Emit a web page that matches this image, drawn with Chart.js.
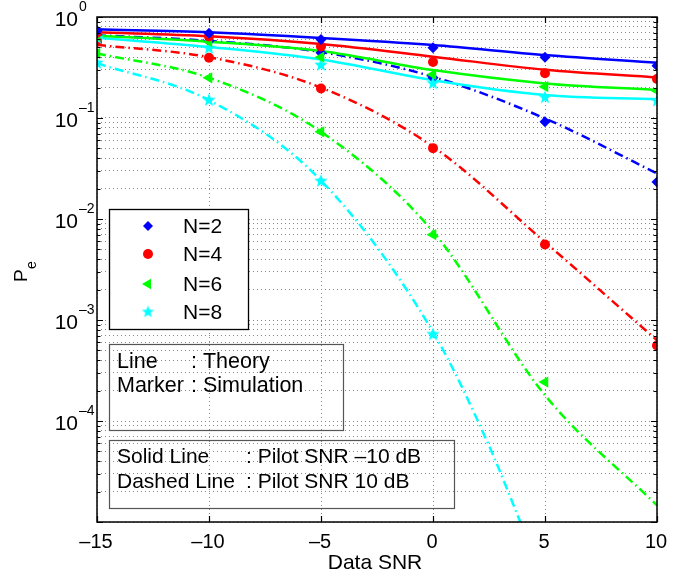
<!DOCTYPE html>
<html><head><meta charset="utf-8">
<script src="https://cdn.jsdelivr.net/npm/chart.js@4"></script>
<style>html,body{margin:0;padding:0;background:#fff}</style>
</head><body>
<canvas id="c" width="699" height="576"></canvas>
<script>
// ---------- data ----------
const snr = [-15, -10, -5, 0, 5, 10];
const snrN8Dashed = [-15, -10, -5, 0, 2.5, 3.9];
const xTickValues = [-15, -10, -5, 0, 5, 10];
const xTickLabels = ['\u201315', '\u201310', '\u20135', '0', '5', '10'];
const yTickValues = [1, 1e-1, 1e-2, 1e-3, 1e-4];
const yTickExponents = ['0', '\u20131', '\u20132', '\u20133', '\u20134'];
const legendLabels = ['N=2', 'N=4', 'N=6', 'N=8'];
const xTitle = 'Data SNR';
const noteLines = [['Line', ': Theory'], ['Marker', ': Simulation']];
const pilotLines = [['Solid Line', ': Pilot SNR \u201310 dB'], ['Dashed Line', ': Pilot SNR 10 dB']];

// theory, pilot SNR -10 dB (solid)
const theoryN2Solid = [0.755, 0.705, 0.62, 0.527, 0.42, 0.353];
const theoryN4Solid = [0.705, 0.645, 0.54, 0.405, 0.30, 0.252];
const theoryN6Solid = [0.653, 0.57, 0.46, 0.298, 0.22, 0.189];
const theoryN8Solid = [0.624, 0.505, 0.38, 0.237, 0.169, 0.153];
// theory, pilot SNR 10 dB (dash-dot)
const theoryN2Dashed = [0.66, 0.58, 0.45, 0.256, 0.099, 0.0283];
const theoryN4Dashed = [0.53, 0.40, 0.20, 0.052, 0.0059, 6.3e-4];
const theoryN6Dashed = [0.436, 0.25, 0.073, 0.0075, 1.8e-4, 1.46e-5];
const theoryN8Dashed = [0.348, 0.15, 0.024, 7.6e-4, 5.7e-5, 1e-5];
// simulation, pilot SNR -10 dB
const simN2Solid = [0.73, 0.69, 0.60, 0.497, 0.40, 0.33];
const simN4Solid = [0.70, 0.64, 0.51, 0.358, 0.277, 0.243];
const simN6Solid = [0.65, 0.57, 0.40, 0.27, 0.204, 0.186];
const simN8Solid = [0.62, 0.49, 0.334, 0.22, 0.16, 0.148];
// simulation, pilot SNR 10 dB
const simN2Dashed = [0.66, 0.58, 0.443, 0.25, 0.0918, 0.0233];
const simN4Dashed = [0.57, 0.395, 0.196, 0.0503, 0.0056, 5.6e-4];
const simN6Dashed = [0.436, 0.25, 0.073, 0.007, 2.43e-4, null];
const simN8Dashed = [0.35, 0.15, 0.0237, 7.2e-4, null, null];

// ---------- styles ----------
const FONT = '"Liberation Sans", Arial, Helvetica, sans-serif';
const colors = ['#0000ff', '#ff0000', '#00ff00', '#00ffff'];

function makeStar(color, R) {
  const s = Math.ceil(R * 2 + 2);
  const c = document.createElement('canvas');
  c.width = s; c.height = s;
  const g = c.getContext('2d');
  g.fillStyle = color;
  g.beginPath();
  for (let i = 0; i < 10; i++) {
    const r = i % 2 ? R * 0.42 : R;
    const a = -Math.PI / 2 + i * Math.PI / 5;
    g.lineTo(s / 2 + r * Math.cos(a), s / 2 + r * Math.sin(a));
  }
  g.closePath(); g.fill();
  return c;
}
const starImg = makeStar('#00ffff', 7);
const starImgSmall = makeStar('#00ffff', 6.5);
const markerStyles = [
  {pointStyle: 'rectRot', radius: 5.5, rotation: 0},
  {pointStyle: 'circle', radius: 5, rotation: 0},
  {pointStyle: 'triangle', radius: 6.5, rotation: -90},
  {pointStyle: starImg, radius: 7, rotation: 0}
];
const legendMarkerStyles = [
  {pointStyle: 'rectRot', radius: 5, rotation: 0},
  {pointStyle: 'circle', radius: 5, rotation: 0},
  {pointStyle: 'triangle', radius: 6, rotation: -90},
  {pointStyle: starImgSmall, radius: 6.5, rotation: 0}
];

const pts = (xs, ys) => xs.map((x, i) => ({x: x, y: ys[i]})).filter(p => p.y !== null);

function lineDs(xs, ys, k, dashed) {
  return {
    data: pts(xs, ys), borderColor: colors[k], backgroundColor: colors[k],
    borderWidth: 2.5, pointRadius: 0, pointHoverRadius: 0,
    borderDash: dashed ? [9, 4, 1.5, 4] : [],
    cubicInterpolationMode: 'monotone', fill: false, order: 2
  };
}
function markDs(xs, ys, k) {
  const m = markerStyles[k];
  return {
    data: pts(xs, ys), showLine: false, borderColor: colors[k], backgroundColor: colors[k],
    pointStyle: m.pointStyle, pointRadius: m.radius, pointRotation: m.rotation,
    pointBorderWidth: 0, pointHoverRadius: m.radius, order: 1
  };
}

const datasets = [
  lineDs(snr, theoryN2Solid, 0, false), lineDs(snr, theoryN4Solid, 1, false),
  lineDs(snr, theoryN6Solid, 2, false), lineDs(snr, theoryN8Solid, 3, false),
  lineDs(snr, theoryN2Dashed, 0, true), lineDs(snr, theoryN4Dashed, 1, true),
  lineDs(snr, theoryN6Dashed, 2, true), lineDs(snrN8Dashed, theoryN8Dashed, 3, true),
  markDs(snr, simN2Solid, 0), markDs(snr, simN4Solid, 1),
  markDs(snr, simN6Solid, 2), markDs(snr, simN8Solid, 3),
  markDs(snr, simN2Dashed, 0), markDs(snr, simN4Dashed, 1),
  markDs(snr, simN6Dashed, 2), markDs(snr, simN8Dashed, 3)
];

// ---------- decorations ----------
const deco = {
  id: 'deco',
  afterDatasetsDraw(chart) {
    const {ctx, chartArea: a, scales: {x, y}} = chart;
    ctx.save();
    ctx.strokeStyle = '#000'; ctx.lineWidth = 1.2;
    ctx.beginPath();
    xTickValues.forEach(v => {
      const px = Math.round(x.getPixelForValue(v)) + 0.5;
      ctx.moveTo(px, a.bottom); ctx.lineTo(px, a.bottom - 6);
      ctx.moveTo(px, a.top); ctx.lineTo(px, a.top + 6);
    });
    y.ticks.forEach(t => {
      const m = Math.log10(t.value);
      const major = Math.abs(m - Math.round(m)) < 1e-9;
      const len = major ? 6 : 3.5;
      const py = Math.round(y.getPixelForValue(t.value)) + 0.5;
      ctx.moveTo(a.left, py); ctx.lineTo(a.left + len, py);
      ctx.moveTo(a.right, py); ctx.lineTo(a.right - len, py);
    });
    ctx.stroke();
    ctx.lineWidth = 1.5;
    ctx.strokeRect(a.left, a.top, a.right - a.left, a.bottom - a.top);
    ctx.restore();
  },
  afterDraw(chart) {
    const {ctx, chartArea: a, scales: {x, y}} = chart;
    ctx.save();
    ctx.fillStyle = '#000';
    // x tick labels
    ctx.font = '20px ' + FONT; ctx.textAlign = 'center'; ctx.textBaseline = 'alphabetic';
    xTickValues.forEach((v, i) => ctx.fillText(xTickLabels[i], x.getPixelForValue(v) - 1, 548));
    // x title
    ctx.font = '21px ' + FONT;
    ctx.fillText(xTitle, (a.left + a.right) / 2 - 2, 569);
    // y tick labels 10^k
    yTickValues.forEach((v, i) => {
      const py = y.getPixelForValue(v);
      ctx.font = '14px ' + FONT; ctx.textAlign = 'left';
      ctx.fillText(yTickExponents[i], 79, py - 6);
      ctx.font = '21px ' + FONT; ctx.textAlign = 'right';
      ctx.fillText('10', 78, py + 9);
    });
    // y title P_e
    ctx.save();
    ctx.translate(27, 282); ctx.rotate(-Math.PI / 2);
    ctx.textAlign = 'left';
    ctx.font = '19px ' + FONT; ctx.fillText('P', 0, 0);
    ctx.font = '14px ' + FONT; ctx.fillText('e', 13, 9);
    ctx.restore();

    // legend box
    ctx.fillStyle = '#fff';
    ctx.fillRect(109, 209, 139, 120);
    ctx.strokeStyle = '#000'; ctx.lineWidth = 1.3;
    ctx.strokeRect(109.5, 209.5, 139, 120);
    const rows = [226, 254, 284, 312];
    legendLabels.forEach((lab, k) => {
      const m = legendMarkerStyles[k];
      ctx.fillStyle = colors[k]; ctx.strokeStyle = colors[k];
      Chart.helpers.drawPoint(ctx, {pointStyle: m.pointStyle, radius: m.radius, rotation: m.rotation, borderWidth: 0}, 148, rows[k]);
      ctx.fillStyle = '#000';
      ctx.font = '21px ' + FONT; ctx.textAlign = 'left'; ctx.textBaseline = 'middle';
      ctx.fillText(lab, 183, rows[k] + 1);
    });

    // note boxes
    ctx.strokeStyle = '#555'; ctx.lineWidth = 1.2;
    ctx.strokeRect(109.5, 344.5, 234, 86);
    ctx.strokeRect(109.5, 440.5, 345, 68);
    ctx.fillStyle = '#000'; ctx.font = '21.5px ' + FONT; ctx.textBaseline = 'middle';
    noteLines.forEach((l, i) => {
      ctx.fillText(l[0], 117, 362 + i * 24.5);
      ctx.fillText(l[1], 191, 362 + i * 24.5);
    });
    ctx.font = '21px ' + FONT;
    pilotLines.forEach((l, i) => {
      ctx.fillText(l[0], 117, 457 + i * 25);
      ctx.fillText(l[1], 246, 457 + i * 25);
    });
    ctx.restore();
  }
};

const yGridValues = [];
for (let e = -5; e <= 0; e++) for (let m = 1; m <= 9; m++) { const v = m * Math.pow(10, e); if (v <= 1.0000001) yGridValues.push(v); }

new Chart(document.getElementById('c'), {
  type: 'line',
  data: {datasets: datasets},
  options: {
    responsive: false, animation: false, devicePixelRatio: 1,
    layout: {padding: {left: 97, top: 17, right: 42, bottom: 54}},
    plugins: {legend: {display: false}, tooltip: {enabled: false}},
    events: [],
    scales: {
      x: {
        type: 'linear', min: -15, max: 10,
        afterBuildTicks: s => { s.ticks = xTickValues.map(v => ({value: v})); },
        ticks: {display: false},
        grid: {drawTicks: false, color: '#888', lineWidth: 1},
        border: {display: false, dash: [1, 3]}
      },
      y: {
        type: 'logarithmic', min: 1e-5, max: 1,
        afterBuildTicks: s => { s.ticks = yGridValues.map(v => ({value: v})); },
        ticks: {display: false},
        grid: {drawTicks: false, color: '#888', lineWidth: 1},
        border: {display: false, dash: [1, 3]}
      }
    }
  },
  plugins: [deco]
});
</script>
</body></html>
